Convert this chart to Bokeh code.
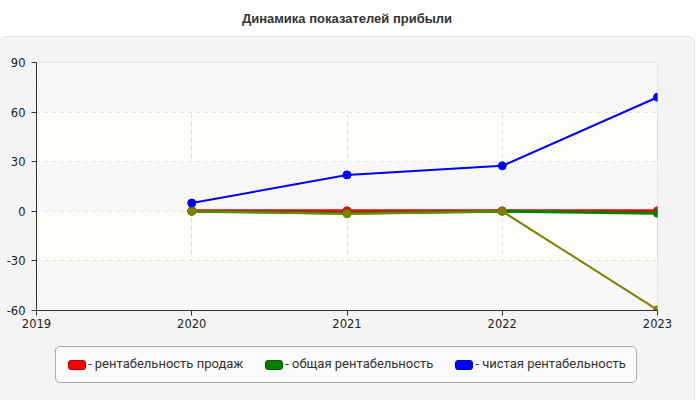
from bokeh.plotting import figure
from bokeh.models import (ColumnDataSource, FixedTicker, BoxAnnotation, Div,
                          PrintfTickFormatter)
from bokeh.layouts import column
from bokeh.embed import file_html
from bokeh.resources import INLINE

# data
years = [2020, 2021, 2022, 2023]
sales_profit = [0.3, 0.3, 0.3, 0.3]        # рентабельность продаж
total_profit = [0.0, -1.2, 0.0, -1.2]      # общая рентабельность
net_profit = [5.0, 22.0, 27.5, 69.0]       # чистая рентабельность
other_profit = [0.0, -1.5, 0.0, -59.6]     # без подписи (оливковая)

x_ticks = [2019, 2020, 2021, 2022, 2023]
y_ticks = [-60, -30, 0, 30, 60, 90]

title_text = "Динамика показателей прибыли"
labels = ["- рентабельность продаж", "- общая рентабельность", "- чистая рентабельность"]
colors = ["#ff0000", "#008000", "#0000ff"]
edge_colors = ["#b00000", "#005a00", "#0000b0"]

W = 684
PANEL = "#f4f4f4"

title = Div(text=title_text, width=W, height=27,
            styles={"text-align": "center", "font-family": "Liberation Sans",
                    "font-weight": "bold", "font-size": "13px", "color": "#333333",
                    "line-height": "28px"})

p = figure(width=W, height=300, x_range=(2019, 2023), y_range=(-60, 90),
           output_backend="svg", toolbar_location=None,
           min_border_left=36, min_border_right=27, min_border_top=25,
           min_border_bottom=27,
           background_fill_color="#fdfdf7", border_fill_color=PANEL,
           outline_line_color="#dddddd")

# alternating hatched bands
for i, (lo, hi) in enumerate(zip(y_ticks[:-1], y_ticks[1:])):
    if i % 2 == 0:
        p.add_layout(BoxAnnotation(bottom=lo, top=hi, fill_color="#fefefe",
                                   fill_alpha=1, line_alpha=0,
                                   hatch_pattern="/", hatch_color="#e6e6e6",
                                   hatch_alpha=0.7, hatch_scale=6, hatch_weight=1,
                                   level="underlay"))

src = ColumnDataSource(dict(x=years, sales=sales_profit, total=total_profit,
                            net=net_profit, other=other_profit))

p.line("x", "sales", source=src, color=colors[0], line_width=3)
p.scatter("x", "sales", source=src, color=colors[0], size=8)
p.line("x", "total", source=src, color=colors[1], line_width=3)
p.scatter("x", "total", source=src, color=colors[1], size=8)
p.line("x", "other", source=src, color="#808000", line_width=2)
p.scatter("x", "other", source=src, color="#808000", size=8)
p.line("x", "net", source=src, color=colors[2], line_width=2)
p.scatter("x", "net", source=src, color=colors[2], size=8)

p.xaxis.ticker = FixedTicker(ticks=x_ticks)
p.yaxis.ticker = FixedTicker(ticks=y_ticks)
p.yaxis.formatter = PrintfTickFormatter(format="%d")
p.xaxis.formatter = PrintfTickFormatter(format="%d")
for ax in (p.xaxis, p.yaxis):
    ax.axis_line_color = "#333333"
    ax.major_tick_line_color = "#333333"
    ax.major_tick_out = 5
    ax.major_tick_in = 0
    ax.minor_tick_line_color = None
    ax.major_label_text_font = "DejaVu Sans"
    ax.major_label_text_font_size = "11.5px"
    ax.major_label_text_color = "#222222"
p.yaxis.major_label_standoff = 6
p.xaxis.major_label_standoff = 3

for g in (p.xgrid, p.ygrid):
    g.grid_line_color = "#dddddd"
    g.grid_line_dash = "4 4"

# legend as html (bokeh Legend would not render here)
items = ""
for lab, c, ec in zip(labels, colors, edge_colors):
    items += (f'<span style="display:inline-flex;align-items:center;margin-right:22px">'
              f'<span style="display:inline-block;width:16px;height:8px;background:{c};'
              f'border:1px solid {ec};border-radius:3px;margin-right:2px"></span>'
              f'<span>{lab}</span></span>')
legend_html = (f'<div style="margin-left:50px;margin-top:4px;width:568px;height:35px;'
               f'border:1px solid #aaaaaa;border-radius:5px;background:#fafafa;'
               f'display:flex;align-items:center;padding-left:12px;box-sizing:content-box;'
               f'font-family:Roboto;font-size:13px;color:#333333;white-space:nowrap">'
               f'{items}</div>')
legend = Div(text=legend_html, width=W, height=56,
             styles={"background-color": PANEL})

panel = column(p, legend, spacing=0,
               styles={"background-color": PANEL, "border-radius": "6px",
                       "outline": "1px solid #e2e2e2"})
layout = column(title, panel, spacing=0)
open("out.html", "w").write(file_html(layout, INLINE))
